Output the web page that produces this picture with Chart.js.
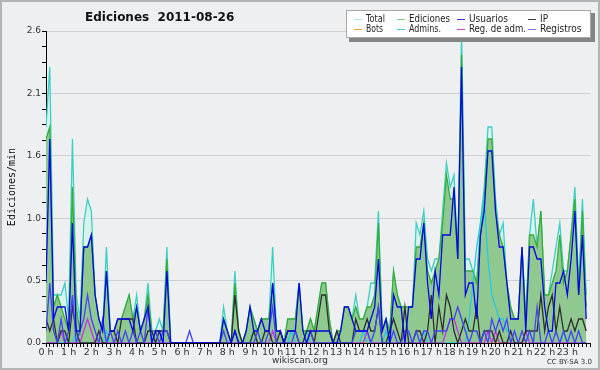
<!DOCTYPE html>
<html>
<head>
<meta charset="utf-8">
<script src="https://cdn.jsdelivr.net/npm/chart.js@4/dist/chart.umd.min.js"></script>
<style>
  body { margin:0; background:#eeeff1; }
  #wrap { width:600px; height:370px; }
</style>
</head>
<body>
<div id="wrap"><canvas id="myChart" width="600" height="370"></canvas></div>
<script>
// one value every 10 minutes, 6 per hour, edits per minute
const total = [
  1.8,2.3,0.4,0.4,0.4,0.5, 0.2,1.7,0.4,0.2,1.0,1.2, 1.1,0.4,0.2,0.1,0.8,0.1, 0.1,0.2,0.2,0.3,0.4,0.2,
  0.4,0.1,0.2,0.5,0.1,0.1, 0.2,0.1,0.8,0,0,0, 0,0,0,0,0,0, 0,0,0,0,0,0.3,
  0.1,0,0.6,0.1,0,0.1, 0.3,0.2,0.1,0.2,0.2,0.2, 0.8,0.1,0.1,0,0.2,0.2, 0.2,0.5,0.1,0.1,0.2,0.1,
  0.3,0.5,0.5,0.2,0,0.1, 0.1,0.3,0.3,0.2,0.4,0.2, 0.2,0.3,0.5,0.5,1.1,0.1, 0.2,0.1,0.6,0.4,0.3,0.3,
  0.3,0.3,1.0,0.9,1.1,0.7, 0.6,0.7,0.7,1.1,1.5,1.3, 1.4,0.7,2.6,0.7,0.7,0.6, 0.5,1.0,1.3,1.8,1.8,1.2,
  0.9,1.0,0.5,0.3,0.2,0.2, 0.8,0.2,0.9,1.2,0.8,1.1, 0.4,0.4,0.6,0.8,1.0,0.6, 0.6,0.9,1.3,0.5,1.2,0.4
];
const ediciones = [
  1.7,1.8,0.3,0.4,0.3,0.2, 0.1,1.3,0.3,0.1,0.8,0.8, 0.9,0.4,0.2,0.1,0.6,0.1, 0.1,0.2,0.2,0.3,0.4,0.2,
  0.3,0.1,0.2,0.4,0.1,0.1, 0.1,0.1,0.7,0,0,0, 0,0,0,0,0,0, 0,0,0,0,0,0.2,
  0.1,0,0.5,0.1,0,0.1, 0.3,0.2,0.1,0.2,0.2,0.2, 0.5,0.1,0.1,0,0.2,0.2, 0.2,0.5,0.1,0.1,0.2,0.1,
  0.3,0.5,0.5,0.2,0,0.1, 0.1,0.3,0.3,0.2,0.3,0.2, 0.2,0.3,0.3,0.4,1.0,0.1, 0.2,0.1,0.6,0.4,0.3,0.3,
  0.3,0.3,0.8,0.8,1.0,0.6, 0.5,0.6,0.7,1.0,1.4,1.2, 1.2,0.7,2.4,0.6,0.6,0.6, 0.5,0.9,1.2,1.7,1.7,1.1,
  0.9,0.8,0.5,0.3,0.2,0.2, 0.8,0.2,0.9,0.9,0.8,1.1, 0.4,0.4,0.5,0.6,0.9,0.5, 0.6,0.9,1.2,0.4,1.1,0.3
];
const usuarios = [
  0.5,1.7,0.2,0.3,0.3,0.3, 0.1,1.0,0.1,0.1,0.8,0.8, 0.9,0.4,0.2,0.1,0.6,0.1, 0.1,0.2,0.2,0.2,0.2,0.1,
  0.3,0.1,0.2,0.3,0,0.1, 0.1,0,0.6,0,0,0, 0,0,0,0,0,0, 0,0,0,0,0,0.2,
  0.1,0,0.1,0,0,0.1, 0.3,0.1,0.1,0.2,0.1,0.1, 0.5,0.1,0.1,0,0.1,0.1, 0.1,0.5,0.1,0,0.1,0.1,
  0.1,0.1,0.1,0.1,0,0, 0.1,0.3,0.3,0.2,0.1,0.1, 0.1,0.1,0.2,0.3,0.7,0.1, 0.2,0,0.4,0.3,0.3,0,
  0.3,0.3,0.7,0.7,1.0,0.5, 0.2,0.6,0.4,0.9,0.9,0.9, 1.3,0.7,2.3,0.4,0.5,0.5, 0.2,0.9,1.1,1.6,1.6,1.1,
  0.8,0.8,0.5,0.2,0.2,0.2, 0.8,0.1,0.8,0.8,0.7,0.7, 0.3,0.1,0.1,0.5,0.5,0.6, 0.4,0.7,1.1,0.4,0.9,0.2
];
const ip = [
  0.2,0.1,0.2,0,0.1,0.1, 0,0.3,0.1,0,0,0, 0,0,0.1,0,0,0.1, 0.1,0,0.2,0.2,0.2,0.2,
  0,0,0,0.1,0.1,0, 0.1,0.1,0.1,0,0,0, 0,0,0,0,0,0, 0,0,0,0,0,0,
  0,0,0.4,0.1,0,0, 0,0.1,0,0,0.1,0.1, 0,0,0.1,0,0.1,0.1, 0.1,0,0,0.1,0.1,0,
  0.2,0.4,0.4,0.1,0,0.1, 0,0,0,0,0.2,0.1, 0.1,0.2,0.1,0.1,0.3,0, 0,0.1,0.2,0.1,0,0.3,
  0,0,0.1,0.1,0,0.1, 0.4,0,0.3,0.1,0.4,0.3, 0.1,0,0.1,0.2,0.1,0.1, 0.3,0,0.1,0.1,0.1,0,
  0.1,0,0,0.1,0,0, 0,0.1,0.1,0.1,0.1,0.4, 0.1,0.3,0.4,0.1,0.3,0.1, 0.1,0.2,0.1,0.2,0.2,0.1
];
const bots = new Array(144).fill(0);
const admins = [
  0,0,0,0,0,0, 0,0,0.1,0,0,0, 0,0,0,0,0.1,0, 0,0,0,0,0,0,
  0,0,0,0,0,0, 0,0,0,0,0,0, 0,0,0,0,0,0, 0,0,0,0,0,0,
  0,0,0,0,0,0, 0,0.1,0,0,0,0, 0,0,0,0,0,0.1, 0,0,0,0.1,0,0,
  0,0,0,0,0,0, 0,0,0,0,0,0, 0.1,0,0,0,0,0, 0.1,0,0,0,0,0,
  0,0,0,0,0.1,0, 0,0,0,0,0,0, 0,0,0,0,0.2,0.5, 0.8,1.0,1.2,0.7,0.4,0.3,
  0.2,0.2,0.1,0.1,0,0, 0,0.1,0,0,0,0, 0,0,0,0,0,0.1, 0,0,0,0,0,0
];
const regAdm = [
  0,0,0,0,0.1,0, 0,0,0,0,0.1,0.2, 0.1,0,0,0,0,0, 0,0,0,0,0,0,
  0,0,0,0,0,0, 0,0,0,0,0,0, 0,0,0,0,0,0, 0,0,0,0,0,0,
  0,0,0,0,0,0, 0,0,0,0,0,0, 0.1,0,0,0,0,0, 0,0,0,0,0,0,
  0,0,0,0,0,0, 0,0,0,0,0,0, 0,0.1,0,0,0,0, 0,0,0,0,0,0,
  0,0,0,0,0,0, 0,0,0,0,0.1,0.2, 0.2,0.1,0,0,0,0, 0,0,0,0.1,0,0.1,
  0,0,0,0,0,0, 0,0.1,0,0,0,0, 0,0,0,0,0,0, 0,0,0,0,0,0
];
const registros = [
  0.1,0.5,0.1,0,0.2,0, 0.1,0.4,0,0.1,0.2,0.4, 0.2,0.1,0,0.2,0,0.1, 0,0.1,0,0.1,0,0.1,
  0,0.1,0,0.3,0,0.1, 0,0.1,0.1,0,0,0, 0,0,0.1,0,0,0, 0,0,0,0,0,0.1,
  0,0,0.1,0,0,0, 0,0,0.1,0,0,0.1, 0.3,0,0,0,0,0, 0.1,0,0,0,0.1,0,
  0,0,0,0,0,0, 0,0,0,0,0.1,0.1, 0.1,0.1,0,0.1,0.3,0, 0,0,0.1,0,0,0.1,
  0.1,0,0.1,0,0.1,0.1, 0,0.1,0.1,0.1,0.1,0.2, 0.2,0.3,0.2,0.1,0,0.1, 0.1,0,0.1,0,0.2,0.1,
  0.2,0.1,0.2,0,0.1,0, 0.1,0,0.1,0,0.3,0, 0,0.1,0,0.1,0,0.1, 0,0.1,0,0.1,0,0
];

const legendNames = ['Total','Ediciones','Usuarios','IP','Bots','Admins.','Reg. de adm.','Registros'];
const legendColors = ['#a8e8e6','#7fd07f','#3434e8','#3c3c3c','#f0a030','#40cce0','#e040e0','#7272ff'];

const pts = arr => arr.map((v, i) => ({x: i * 10, y: v}));

function line(label, arr, color, order, extra) {
  return Object.assign({
    label: label, data: pts(arr), borderColor: color, borderWidth: 1.3,
    pointRadius: 0, tension: 0, fill: false, order: order
  }, extra || {});
}

const bgPlugin = {
  id: 'bg',
  beforeDraw(chart) {
    const c = chart.ctx;
    c.save();
    c.fillStyle = '#eeeff1';
    c.fillRect(0, 0, chart.width, chart.height);
    c.restore();
  },
  afterDraw(chart) {
    const c = chart.ctx;
    c.save();
    // frame
    c.strokeStyle = '#b4b4b4';
    c.lineWidth = 2;
    c.strokeRect(1, 1, chart.width - 2, chart.height - 2);
    // title
    c.fillStyle = '#111';
    c.font = 'bold 12px "DejaVu Sans"';
    c.textBaseline = 'middle';
    c.fillText('Ediciones  2011-08-26', 85, 18);
    // y title
    c.font = '10px "DejaVu Sans Mono"';
    c.translate(12, 187);
    c.rotate(-Math.PI / 2);
    c.textAlign = 'center';
    c.fillText('Ediciones/min', 0, 0);
    c.setTransform(1, 0, 0, 1, 0, 0);
    // footer
    c.font = '9px "DejaVu Sans"';
    c.fillStyle = '#333';
    c.textAlign = 'center';
    c.fillText('wikiscan.org', 300, 361);
    c.font = '7px "DejaVu Sans"';
    c.textAlign = 'right';
    c.fillText('CC BY-SA 3.0', 592, 362);
    // legend box
    c.fillStyle = '#858585';
    c.fillRect(349, 13, 246, 29);
    c.fillStyle = '#ffffff';
    c.fillRect(346, 10, 245, 28);
    c.strokeStyle = '#a8a8a8';
    c.lineWidth = 1;
    c.strokeRect(346.5, 10.5, 244, 27);
    const colX = [354, 397, 457, 528];
    const rowY = [19, 29];
    const widths = [19, 41, 40, 8, 17, 32, 57, 46];
    c.font = '10px "DejaVu Sans Condensed", "DejaVu Sans"';
    c.textAlign = 'left';
    legendNames.forEach((name, i) => {
      const x = colX[i % 4], y = rowY[Math.floor(i / 4)];
      c.strokeStyle = legendColors[i];
      c.beginPath();
      c.moveTo(x, y + 0.5);
      c.lineTo(x + 8, y + 0.5);
      c.stroke();
      c.fillStyle = '#222';
      c.fillText(name, x + 12, y, widths[i]);
    });
    c.restore();
  }
};

new Chart(document.getElementById('myChart').getContext('2d'), {
  type: 'line',
  data: {
    datasets: [
      line('Total', total, '#3ccfc4', 10, {fill: 'origin', backgroundColor: '#d8f2ee'}),
      line('Ediciones', ediciones, '#36ad36', 9, {fill: 'origin', backgroundColor: '#90c990'}),
      line('Usuarios', usuarios, '#0606e4', 1),
      line('IP', ip, '#2e2e2e', 3),
      line('Bots', bots, '#f0a030', 7),
      line('Admins.', admins, '#28c8e0', 5),
      line('Reg. de adm.', regAdm, '#c236e0', 4),
      line('Registros', registros, '#4444f2', 2)
    ]
  },
  options: {
    responsive: false,
    animation: false,
    layout: {padding: {top: 31, right: 10, left: 0, bottom: 0}},
    plugins: {legend: {display: false}, title: {display: false}, tooltip: {enabled: false}},
    scales: {
      x: {
        type: 'linear', min: 0, max: 1440,
        afterFit: s => { s.height = 27; },
        border: {color: '#000'},
        grid: {drawOnChartArea: false, tickLength: 4, color: '#000'},
        ticks: {
          stepSize: 10, autoSkip: false, maxRotation: 0, padding: 0,
          color: '#333', font: {size: 9.5, family: 'DejaVu Sans'},
          callback: v => (v % 60 === 0 && v < 1440) ? (v / 60) + ' h' : ''
        }
      },
      y: {
        min: 0, max: 2.6,
        afterFit: s => { s.width = 46; },
        border: {color: '#000'},
        grid: {
          color: ctx => ctx.index % 4 === 0 ? '#cfcfd2' : 'rgba(0,0,0,0)',
          tickColor: '#000', tickLength: 4
        },
        ticks: {
          stepSize: 0.13, autoSkip: false, padding: 1,
          color: '#333', font: {size: 9, family: 'DejaVu Sans'},
          callback: (v, i) => i % 4 === 0 ? v.toFixed(1) : ''
        }
      }
    }
  },
  plugins: [bgPlugin]
});
</script>
</body>
</html>
